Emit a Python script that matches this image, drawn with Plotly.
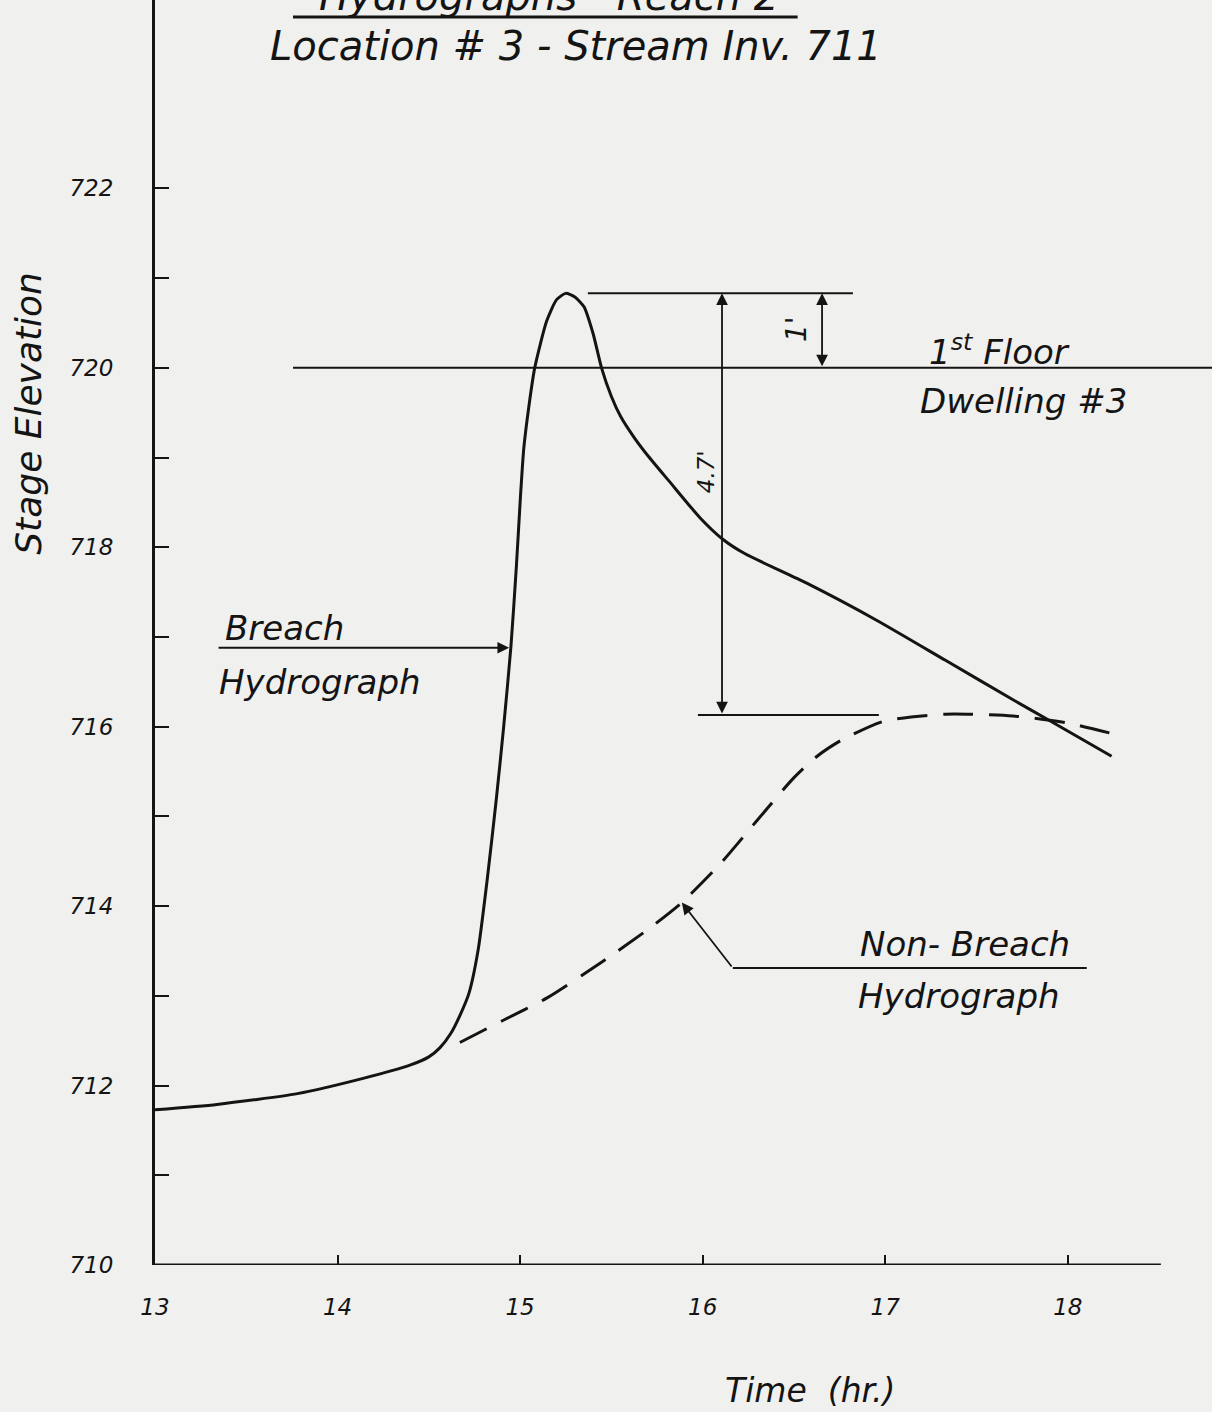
import plotly.graph_objects as go

# breach hydrograph (solid line)
time_breach = [13.0, 13.34, 13.78, 14.14, 14.40, 14.50, 14.56, 14.62, 14.67, 14.72,
               14.77, 14.82, 14.87, 14.91, 14.95, 14.98, 15.00, 15.02, 15.05, 15.08,
               15.145, 15.20, 15.25, 15.30, 15.35, 15.40, 15.446, 15.50, 15.55, 15.626,
               15.70, 15.815, 15.985, 16.11, 16.23, 16.57, 16.95, 17.33, 17.70, 17.89, 18.24]
stage_breach = [711.73, 711.79, 711.91, 712.08, 712.23, 712.32, 712.42, 712.58, 712.78, 713.03,
                713.51, 714.3, 715.2, 716.0, 716.9, 717.8, 718.5, 719.1, 719.6, 720.0,
                720.52, 720.76, 720.83, 720.79, 720.68, 720.38, 720.0, 719.68, 719.46, 719.22,
                719.02, 718.74, 718.33, 718.09, 717.93, 717.60, 717.19, 716.74, 716.30, 716.08, 715.67]

# non-breach hydrograph (dashed line)
time_nonbreach = [14.67, 14.9, 15.15, 15.45, 15.7, 15.886, 16.1, 16.3, 16.49, 16.62,
                  16.76, 16.99, 17.33, 17.7, 18.0, 18.23]
stage_nonbreach = [712.48, 712.72, 712.98, 713.38, 713.74, 714.04, 714.48, 714.96, 715.41, 715.66,
                   715.85, 716.06, 716.14, 716.12, 716.04, 715.93]

x_ticks = [13, 14, 15, 16, 17, 18]
y_ticks = list(range(710, 723))
y_ticklabels = [str(v) if v % 2 == 0 else "" for v in y_ticks]

floor_elev = 720.0
peak_stage = 720.83
nonbreach_max = 716.13

INK = "#141414"
PAPER = "#f0f0ee"
FONT = "DejaVu Sans, sans-serif"


def hand(size):
    return dict(family=FONT, size=size, color=INK, style="italic")


fig = go.Figure()

fig.add_trace(go.Scatter(
    x=time_breach, y=stage_breach, mode="lines",
    line=dict(color=INK, width=3, shape="spline", smoothing=0.6),
    showlegend=False, hoverinfo="skip"))

fig.add_trace(go.Scatter(
    x=time_nonbreach, y=stage_nonbreach, mode="lines",
    line=dict(color=INK, width=3, shape="spline", smoothing=0.6, dash="30px,16px"),
    showlegend=False, hoverinfo="skip"))

# x axis line (drawn by hand so it stops before the right edge)
fig.add_shape(type="line", x0=13, x1=18.51, y0=710, y1=710, line=dict(color=INK, width=3))

# 1st floor line
fig.add_shape(type="line", x0=13.756, x1=18.79, y0=floor_elev, y1=floor_elev,
              line=dict(color=INK, width=2))
# peak and non-breach max reference lines
fig.add_shape(type="line", x0=15.371, x1=16.823, y0=peak_stage, y1=peak_stage,
              line=dict(color=INK, width=2))
fig.add_shape(type="line", x0=15.974, x1=16.965, y0=nonbreach_max, y1=nonbreach_max,
              line=dict(color=INK, width=2))
# non-breach leader (horizontal part)
fig.add_shape(type="line", x0=16.165, x1=18.104, y0=713.31, y1=713.31,
              line=dict(color=INK, width=2))
# title underline
fig.add_shape(type="line", x0=13.756, x1=16.52, y0=723.91, y1=723.91,
              line=dict(color=INK, width=3))

arrow = dict(showarrow=True, arrowcolor=INK, arrowwidth=1.8, arrowhead=2, arrowsize=1.3,
             axref="x", ayref="y", text="", standoff=0, startstandoff=0)

# dimension arrows
fig.add_annotation(x=16.106, y=peak_stage, ax=16.106, ay=nonbreach_max,
                   arrowside="end+start", **arrow)
fig.add_annotation(x=16.654, y=peak_stage, ax=16.654, ay=floor_elev,
                   arrowside="end+start", **arrow)
# breach pointer
fig.add_annotation(x=14.94, y=716.88, ax=13.34, ay=716.88, **arrow)
# non-breach pointer
fig.add_annotation(x=15.886, y=714.04, ax=16.165, ay=713.31, **arrow)

fig.add_annotation(x=16.51, y=720.43, text="1'", textangle=-90, showarrow=False, font=hand(28))
fig.add_annotation(x=16.02, y=718.84, text="4.7'", textangle=-90, showarrow=False, font=hand(23))

fig.add_annotation(x=13.37, y=717.10, text="Breach", xanchor="left", showarrow=False, font=hand(34))
fig.add_annotation(x=13.34, y=716.50, text="Hydrograph", xanchor="left", showarrow=False, font=hand(34))
fig.add_annotation(x=16.85, y=713.58, text="Non- Breach", xanchor="left", showarrow=False, font=hand(34))
fig.add_annotation(x=16.84, y=713.00, text="Hydrograph", xanchor="left", showarrow=False, font=hand(34))
fig.add_annotation(x=17.23, y=720.20, text="1<sup>st</sup> Floor", xanchor="left",
                   showarrow=False, font=hand(34))
fig.add_annotation(x=17.18, y=719.63, text="Dwelling #3", xanchor="left", showarrow=False, font=hand(34))

# titles (the top one is cut by the page edge, as in the scan)
fig.add_annotation(x=15.16, y=723.87, yanchor="bottom", text="Hydrographs - Reach 2",
                   showarrow=False, font=hand(40))
fig.add_annotation(x=13.62, y=723.59, xanchor="left", text="Location # 3 - Stream Inv. 711",
                   showarrow=False, font=hand(40))

# axis titles
fig.add_annotation(x=-0.12, xref="paper", xanchor="center", y=719.49, yanchor="middle",
                   text="Stage Elevation", textangle=-90, showarrow=False, font=hand(36))
fig.add_annotation(x=16.59, xanchor="center", y=-0.099, yref="paper", yanchor="middle",
                   text="Time  (hr.)", showarrow=False, font=hand(33))

fig.update_xaxes(
    range=[13, 18.79], tickvals=x_ticks, ticktext=[str(v) for v in x_ticks],
    ticks="inside", ticklen=10, tickwidth=2, tickcolor=INK,
    showline=False, showgrid=False, zeroline=False,
    ticklabelstandoff=26,
    tickfont=hand(23),
)
fig.update_yaxes(
    range=[710, 724.1], tickvals=y_ticks, ticktext=y_ticklabels,
    ticks="inside", ticklen=14, tickwidth=2, tickcolor=INK,
    showline=True, linecolor=INK, linewidth=3,
    showgrid=False, zeroline=False,
    ticklabelstandoff=34,
    tickfont=hand(23),
)

fig.update_layout(
    width=1212, height=1412,
    margin=dict(l=155, r=0, t=0, b=147),
    paper_bgcolor=PAPER, plot_bgcolor=PAPER,
    font=dict(family=FONT, color=INK),
    showlegend=False,
)

fig.write_html("out.html", config={"displayModeBar": False},
               post_script="document.body.style.margin='0';")
